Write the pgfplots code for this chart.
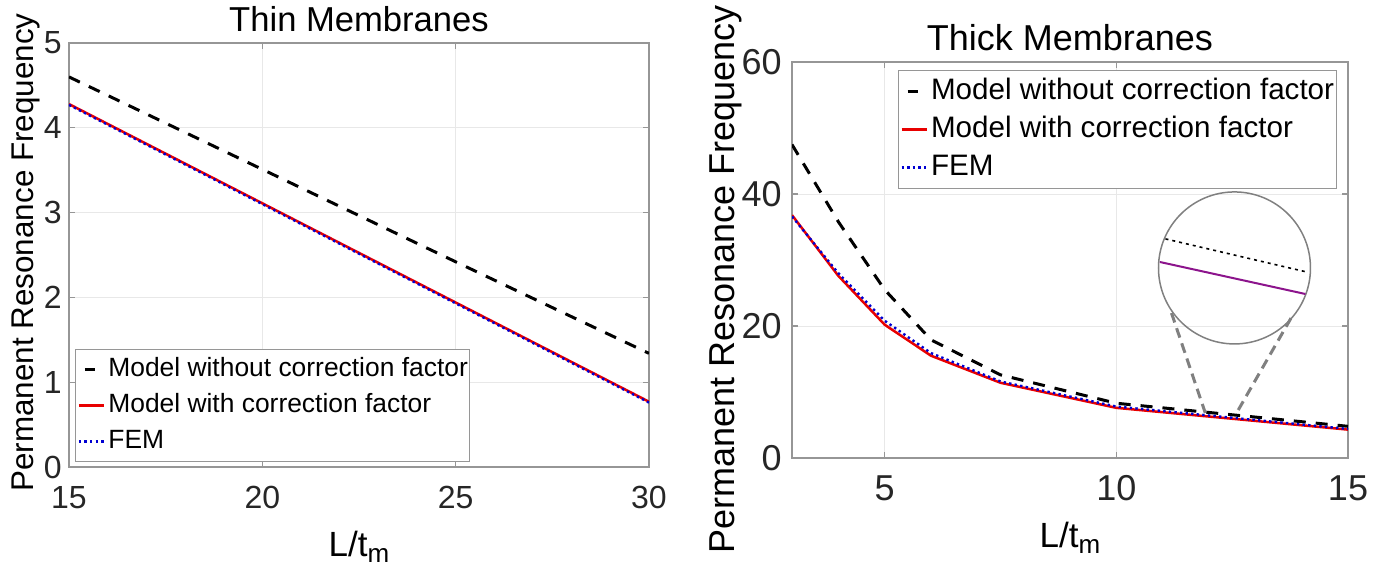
\documentclass[border=0pt]{standalone}
\usepackage{fontspec}
\setmainfont{Liberation Sans}
\usepackage{pgfplots}
\pgfplotsset{compat=1.18}

\definecolor{mred}{RGB}{232,0,0}
\definecolor{mblue}{RGB}{0,0,210}
\definecolor{gridc}{RGB}{232,232,232}
\definecolor{axc}{RGB}{150,150,150}
\definecolor{tickc}{RGB}{38,38,38}
\definecolor{inpurple}{RGB}{140,20,140}

\pgfplotsset{
  mystyle/.style={
    scale only axis,
    axis line style={axc, line width=0.6pt},
    grid=major,
    major grid style={gridc, line width=0.5pt},
    tick align=inside,
    major tick length=3pt,
    tick style={axc, line width=0.6pt},
    /pgf/number format/assume math mode=true,
    ticklabel style={text=tickc, inner sep=0pt},
    yticklabel style={anchor=east},
    xticklabel style={anchor=base},
    legend cell align=left,
    legend image code/.code={\draw[##1] (0pt,0pt) -- (12.5pt,0pt);},
    legend style={draw=axc, fill=white, inner sep=1pt, row sep=0pt, column sep=1.5pt,
      nodes={inner sep=0pt}},
  },
  blk/.style={black, line width=1.5pt, dash pattern=on 6pt off 5pt,
    legend image post style={dash pattern=on 5pt off 10pt, dash phase=12pt}},
  rd/.style={mred, line width=1.25pt},
  bl/.style={mblue, line width=1.2pt, dash pattern=on 1.2pt off 1.6pt},
}

\begin{document}
\begin{tikzpicture}
\path[use as bounding box] (0,0) rectangle (696pt,285pt);

% ---------------- Thin membranes ----------------
\begin{axis}[mystyle,
  at={(34.5pt,51.5pt)}, anchor=south west,
  width=290pt, height=212pt,
  xmin=15, xmax=30, ymin=0, ymax=5,
  xtick={15,20,25,30}, ytick={0,1,2,3,4,5},
  ticklabel style={font=\fontsize{16pt}{16pt}\selectfont},
  xticklabel style={yshift=-20.5pt},
  yticklabel style={xshift=-3.5pt},
  title={Thin Membranes},
  title style={at={(axis description cs:0.5,0.998)}, anchor=base, font=\fontsize{17.3pt}{17.3pt}\selectfont},
  xlabel={L/t\raisebox{-3pt}{\fontsize{13pt}{13pt}\selectfont m}},
  xlabel style={at={(axis description cs:0.5,-0.212)}, anchor=base, font=\fontsize{17.5pt}{17.5pt}\selectfont},
  ylabel={Permanent Resonance Frequency},
  ylabel style={at={(axis description cs:-0.062,0.506)}, anchor=base, font=\fontsize{15.7pt}{15.7pt}\selectfont},
  legend style={at={(axis description cs:0.0103,0.0118)}, anchor=south west,
    font=\fontsize{13.2pt}{13.2pt}\selectfont,
    nodes={text height=12.5pt, text depth=5.5pt}},
]
\addplot[blk] coordinates {(15,4.60) (20,3.51) (25,2.42) (30,1.34)};
\addlegendentry{Model without correction factor}
\addplot[rd] coordinates {(15,4.28) (20,3.11) (25,1.94) (30,0.77)};
\addlegendentry{Model with correction factor}
\addplot[bl] coordinates {(15,4.27) (20,3.10) (25,1.93) (30,0.76)};
\addlegendentry{FEM}
\end{axis}

% ---------------- Thick membranes ----------------
\begin{axis}[mystyle,
  at={(396pt,56pt)}, anchor=south west,
  width=278pt, height=198pt,
  xmin=3, xmax=15, ymin=0, ymax=60,
  xtick={5,10,15}, ytick={0,20,40,60},
  ticklabel style={font=\fontsize{18pt}{18pt}\selectfont},
  xticklabel style={yshift=-21pt},
  yticklabel style={xshift=-5pt},
  title={Thick Membranes},
  title style={at={(axis description cs:0.5,1.000)}, anchor=base, font=\fontsize{18pt}{18pt}\selectfont},
  xlabel={L/t\raisebox{-3pt}{\fontsize{13pt}{13pt}\selectfont m}},
  xlabel style={at={(axis description cs:0.5,-0.227)}, anchor=base, font=\fontsize{17.5pt}{17.5pt}\selectfont},
  ylabel={Permanent Resonance Frequency},
  ylabel style={at={(axis description cs:-0.103,0.45)}, anchor=base, font=\fontsize{18pt}{18pt}\selectfont},
  legend style={at={(axis description cs:0.19,0.98)}, anchor=north west,
    font=\fontsize{14.8pt}{14.8pt}\selectfont,
    nodes={text height=13.5pt, text depth=5.5pt}},
]
\addplot[blk] coordinates {(3,47.5) (4,35.8) (5,25.5) (6,17.9) (7.5,12.6) (10,8.3) (15,4.8)};
\addlegendentry{Model without correction factor}
\addplot[rd] coordinates {(3,36.8) (4,27.6) (5,20.2) (6,15.5) (7.5,11.4) (10,7.6) (15,4.3)};
\addlegendentry{Model with correction factor}
\addplot[bl] coordinates {(3,36.6) (4,28.0) (5,20.8) (6,15.9) (7.5,11.6) (10,7.8) (15,4.4)};
\addlegendentry{FEM}
% zoom inset
\draw[axc!85!black, line width=0.75pt] (axis cs:12.55,28.8) circle[radius=38pt];
\addplot[forget plot, black, line width=0.8pt, dash pattern=on 1.5pt off 2pt] coordinates {(11.06,33.2) (14.10,28.2)};
\addplot[forget plot, inpurple, line width=1pt] coordinates {(10.94,29.7) (14.08,24.85)};
\addplot[forget plot, gray, line width=1.5pt, dash pattern=on 5pt off 3pt] coordinates {(11.19,21.97) (11.92,6.82)};
\addplot[forget plot, gray, line width=1.5pt, dash pattern=on 5pt off 3pt] coordinates {(13.77,21.2) (12.57,6.52)};
\end{axis}
\end{tikzpicture}
\end{document}
